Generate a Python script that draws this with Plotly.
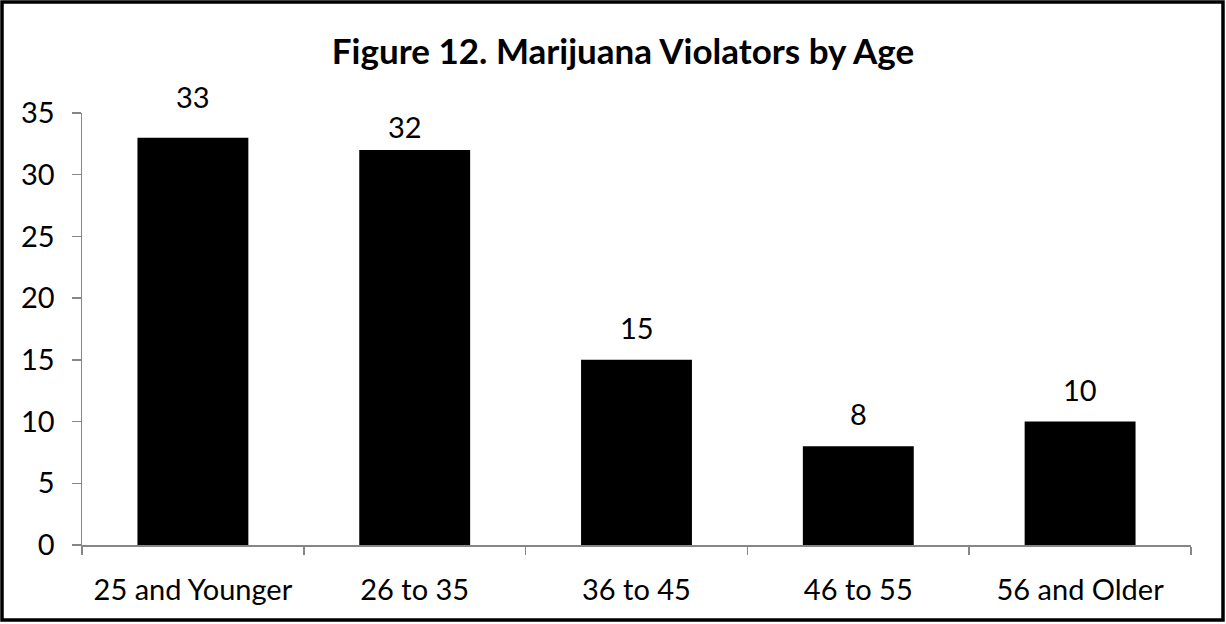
import plotly.graph_objects as go

categories = ["25 and Younger", "26 to 35", "36 to 45", "46 to 55", "56 and Older"]
values = [33, 32, 15, 8, 10]
y_ticks = [0, 5, 10, 15, 20, 25, 30, 35]

# label placement nudges (pixels) as in the original chart
label_nudge = {"25 and Younger": (0, 9), "26 to 35": (-10, -9)}

FONT = "Lato, Carlito, Calibri, sans-serif"
W, H = 1226, 624
L, R, T, B = 82, 35, 113, 79

fig = go.Figure()
fig.add_trace(go.Bar(
    x=categories, y=values,
    marker=dict(color="black", line=dict(width=0)),
    showlegend=False,
))

for c, v in zip(categories, values):
    dx, dy = label_nudge.get(c, (0, 0))
    fig.add_annotation(x=c, y=v, text=str(v), showarrow=False,
                       yanchor="bottom", yshift=13 + dy, xshift=dx,
                       font=dict(family=FONT, size=29, color="black"))

pw = W - L - R
ph = H - T - B
def px_x(p):
    return (p - L) / pw
def px_y(p):
    return (H - B - p) / ph

fig.add_shape(type="rect", xref="paper", yref="paper",
              x0=px_x(2), x1=px_x(1223), y0=px_y(620), y1=px_y(2),
              line=dict(color="black", width=3.5), fillcolor="rgba(0,0,0,0)", layer="above")

fig.update_layout(
    width=W, height=H,
    margin=dict(l=L, r=R, t=T, b=B, pad=0),
    paper_bgcolor="white", plot_bgcolor="white",
    bargap=0.5,
    hovermode=False,
    font=dict(family=FONT, size=29, color="black"),
    title=dict(text="<b>Figure 12. Marijuana Violators by Age</b>",
               x=623 / W, xanchor="center", y=1 - 52 / H, yanchor="middle",
               font=dict(family=FONT, size=35, color="black")),
    xaxis=dict(showline=True, linecolor="#868686", linewidth=1.5,
               ticks="outside", tickson="boundaries", ticklen=8, tickcolor="#868686",
               tickwidth=1.5, showgrid=False, zeroline=False, ticklabelstandoff=19,
               tickfont=dict(family=FONT, size=29, color="black")),
    yaxis=dict(range=[0, 35], tickvals=y_ticks, showline=True, linecolor="#868686",
               linewidth=1.5, ticks="outside", ticklen=9, tickcolor="#868686",
               tickwidth=1.5, showgrid=False, zeroline=False, ticklabelstandoff=11,
               tickfont=dict(family=FONT, size=29, color="black")),
)

fig.write_html("out.html", config={"displayModeBar": False, "staticPlot": True},
               post_script="document.body.style.margin='0';document.body.style.padding='0';")
